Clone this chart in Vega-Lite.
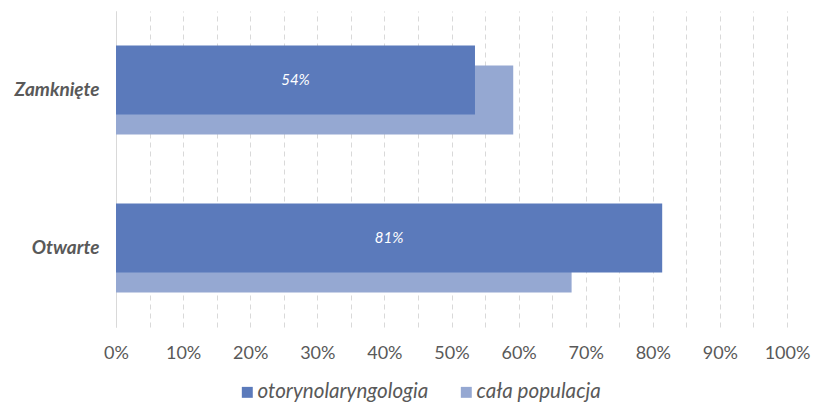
{
  "$schema": "https://vega.github.io/schema/vega-lite/v6.json",
  "width": 671,
  "height": 316,
  "autosize": "none",
  "padding": {"left": 116, "top": 11, "right": 26, "bottom": 76},
  "background": "white",
  "config": {
    "view": {"stroke": null},
    "font": "Lato"
  },
  "data": {
    "values": [
      {"cat": "Zamknięte", "series": "otorynolaryngologia", "value": 0.535},
      {"cat": "Zamknięte", "series": "cała populacja", "value": 0.592},
      {"cat": "Otwarte", "series": "otorynolaryngologia", "value": 0.814},
      {"cat": "Otwarte", "series": "cała populacja", "value": 0.679}
    ]
  },
  "encoding": {
    "y": {
      "field": "cat",
      "type": "nominal",
      "sort": ["Zamknięte", "Otwarte"],
      "scale": {"paddingInner": 0, "paddingOuter": 0},
      "axis": {
        "title": null,
        "ticks": false,
        "domain": true,
        "domainColor": "#d9d9d9",
        "labelFont": "Lato",
        "labelFontSize": 19,
        "labelFontWeight": "bold",
        "labelFontStyle": "italic",
        "labelColor": "#595959",
        "labelPadding": 17
      }
    },
    "x": {
      "field": "value",
      "type": "quantitative",
      "scale": {"domain": [0, 1], "nice": false},
      "axis": {
        "title": null,
        "values": [0, 0.05, 0.1, 0.15, 0.2, 0.25, 0.3, 0.35, 0.4, 0.45, 0.5, 0.55, 0.6, 0.65, 0.7, 0.75, 0.8, 0.85, 0.9, 0.95, 1],
        "labelExpr": "round(datum.value*100) % 10 == 0 ? format(datum.value, '.0%') : ''",
        "labelFlush": false,
        "labelOverlap": false,
        "domain": false,
        "ticks": false,
        "grid": true,
        "gridColor": "#d9d9d9",
        "gridDash": [5, 4],
        "gridWidth": 1,
        "labelFont": "Lato",
        "labelFontSize": 18,
        "labelColor": "#595959",
        "labelPadding": 17
      }
    }
  },
  "layer": [
    {
      "transform": [{"filter": "datum.series === 'cała populacja'"}],
      "mark": {"type": "bar", "size": 69, "yOffset": 10},
      "encoding": {
        "color": {
          "field": "series",
          "type": "nominal",
          "scale": {"domain": ["otorynolaryngologia", "cała populacja"], "range": ["#5B7ABB", "#95A8D2"]},
          "legend": {
            "title": null,
            "orient": "none",
            "legendX": 121,
            "legendY": 371,
            "direction": "horizontal",
            "padding": 0,
            "symbolType": "square",
            "symbolSize": 120,
            "symbolStrokeWidth": 0,
            "symbolOffset": 0,
            "labelFont": "Lato",
            "labelFontSize": 20.6,
            "labelFontStyle": "italic",
            "labelColor": "#595959",
            "labelLimit": 400,
            "columnPadding": 27,
            "labelOffset": 0
          }
        }
      }
    },
    {
      "transform": [{"filter": "datum.series === 'otorynolaryngologia'"}],
      "mark": {"type": "bar", "size": 69, "yOffset": -10},
      "encoding": {
        "color": {"field": "series", "type": "nominal"}
      }
    },
    {
      "transform": [{"filter": "datum.series === 'otorynolaryngologia'"}],
      "mark": {"type": "text", "yOffset": -10, "color": "white", "fontStyle": "italic", "fontSize": 15, "font": "Lato"},
      "encoding": {
        "x": {"field": "value", "type": "quantitative", "stack": "zero", "bandPosition": 0.5},
        "detail": {"field": "series"},
        "text": {"field": "value", "type": "quantitative", "format": ".0%"}
      }
    }
  ]
}
